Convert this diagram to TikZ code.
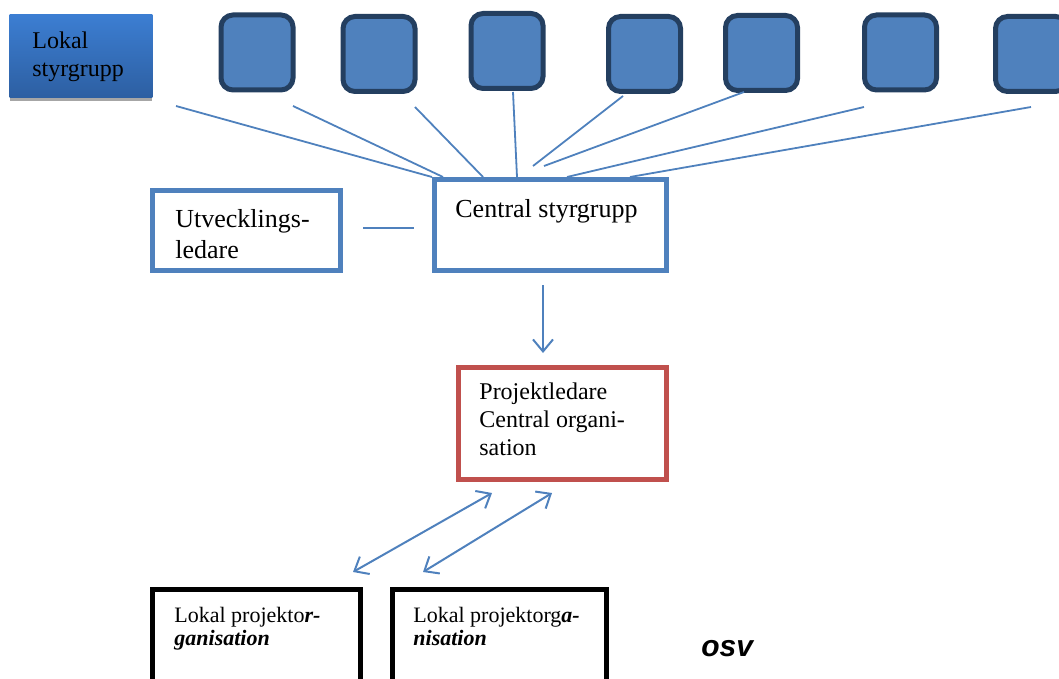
\documentclass[tikz,border=0pt]{standalone}
\usepackage{fontspec}
\setmainfont{Liberation Serif}
\newfontfamily\osvfont{Liberation Sans}
\usetikzlibrary{arrows.meta}
\definecolor{accblue}{HTML}{4F81BD}
\definecolor{darkblue}{HTML}{243F60}
\definecolor{accred}{HTML}{C0504D}
\definecolor{gradtop}{HTML}{3C7ED2}
\definecolor{gradbot}{HTML}{2D5FA2}
\definecolor{shadowgray}{HTML}{A6A6A6}
\begin{document}
\begin{tikzpicture}[x=0.5pt,y=-0.5pt,
  sq/.style={draw=darkblue, fill=accblue, line width=2.5pt, rounded corners=6pt,
    minimum width=36pt, minimum height=37.5pt, inner sep=0pt},
  bluebox/.style={draw=accblue, line width=2.5pt, fill=white, inner sep=0pt},
  redbox/.style={draw=accred, line width=2.5pt, fill=white, inner sep=0pt},
  blackbox/.style={draw=black, line width=2.5pt, fill=white, inner sep=0pt},
  txt/.style={inner sep=0pt, anchor=base west, align=left},
  fan/.style={draw=accblue, line width=0.9pt},
  arr/.style={draw=accblue, line width=1pt, -{Straight Barb[length=6pt,width=10pt]}},
  darr/.style={draw=accblue, line width=1pt, {Straight Barb[length=6pt,width=10pt]}-{Straight Barb[length=6pt,width=10pt]}}
]
\useasboundingbox (0,0) rectangle (1059,679);

% Lokal styrgrupp
\node[minimum width=71pt, minimum height=41pt, inner sep=0pt] (ls) at (81,56) {};
\fill[shadowgray] ([yshift=-2pt]ls.south west) rectangle ([yshift=-2pt]ls.north east);
\shade[top color=gradtop, bottom color=gradbot] (ls.south west) rectangle (ls.north east);
\node[txt, font=\fontsize{12}{14}\selectfont] (lstxt) at (32,77) {Lokal\\styrgrupp};

% top squares
\node[sq] (s1) at (257,52.5) {};
\node[sq] (s2) at (379,54) {};
\node[sq] (s3) at (507,51) {};
\node[sq] (s4) at (644.5,54) {};
\node[sq] (s5) at (761.5,53) {};
\node[sq] (s6) at (900.5,52.5) {};
\node[sq] (s7) at (1031.5,54) {};

% fan line end points
\coordinate (fa) at (176,106);  \coordinate (ta) at (432,177);
\coordinate (fb) at (293,106);  \coordinate (tb) at (443,177);
\coordinate (fc) at (415,107);  \coordinate (tc) at (483,177);
\coordinate (fd) at (513,92);   \coordinate (td) at (517,177);
\coordinate (fe) at (623,96);   \coordinate (te) at (533,166);
\coordinate (ff) at (744,92);   \coordinate (tf) at (544,166);
\coordinate (fg) at (864,107);  \coordinate (tg) at (567,177);
\coordinate (fh) at (1031,107); \coordinate (th) at (630,177);
\foreach \a/\b in {fa/ta,fb/tb,fc/tc,fd/td,fe/te,ff/tf,fg/tg,fh/th}
  \draw[fan] (\a) -- (\b);

% central styrgrupp
\node[bluebox, minimum width=116pt, minimum height=45.5pt] (cs) at (550.5,225) {};
\node[txt, font=\fontsize{13}{15.5}\selectfont] (cstxt) at (455,218) {Central styrgrupp};

% utvecklingsledare
\node[bluebox, minimum width=94pt, minimum height=40pt] (ul) at (246.5,230.5) {};
\node[txt, font=\fontsize{13}{15.5}\selectfont] (ultxt) at (175,258) {Utvecklings-\\ledare};
\coordinate (ulr) at (363,228);
\coordinate (csl) at (414,228);
\draw[fan] (ulr) -- (csl);

% arrow down
\coordinate (d1) at (543,285);
\coordinate (d2) at (543,353);
\draw[arr] (d1) -- (d2);

% projektledare
\node[redbox, minimum width=104pt, minimum height=56pt] (pl) at (562.5,423.5) {};
\node[txt, font=\fontsize{12}{14}\selectfont] (pltxt) at (479,455) {Projektledare\\Central organi-\\sation};

% double arrows
\coordinate (p1) at (492,493); \coordinate (q1) at (353,572);
\coordinate (p2) at (552,493); \coordinate (q2) at (423,572);
\draw[darr] (p1) -- (q1);
\draw[darr] (p2) -- (q2);

% lokal projektorganisation boxes
\node[blackbox, minimum width=104pt, minimum height=65.25pt] (lp1) at (256.5,654.75) {};
\node[blackbox, minimum width=107pt, minimum height=65.25pt] (lp2) at (499.5,654.75) {};
\node[txt, font=\fontsize{11}{11.5}\selectfont] (lp1txt) at (174,645) {Lokal projekto\textbf{\textit{r-}}\\\textbf{\textit{ganisation}}};
\node[txt, font=\fontsize{11}{11.5}\selectfont] (lp2txt) at (413,645) {Lokal projektorg\textbf{\textit{a-}}\\\textbf{\textit{nisation}}};

% osv
\node[txt, font=\osvfont\bfseries\itshape\fontsize{15}{18}\selectfont] (osv) at (701,656) {osv};
\end{tikzpicture}
\end{document}
